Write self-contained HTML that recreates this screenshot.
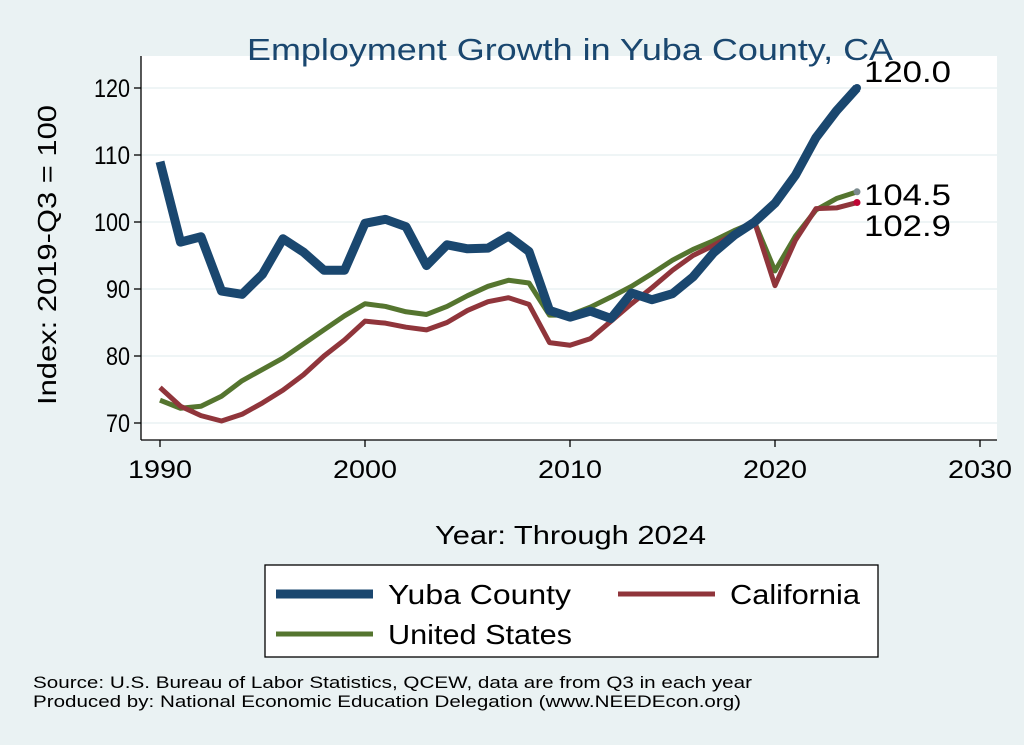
<!DOCTYPE html>
<html><head><meta charset="utf-8"><style>
html,body{margin:0;padding:0;background:#eaf2f3;}
svg{display:block;font-family:"Liberation Sans",Arial,sans-serif;}
</style></head><body>
<svg width="1024" height="745" viewBox="0 0 1024 745">
<rect x="0" y="0" width="1024" height="745" fill="#eaf2f3"/>
<rect x="141" y="56" width="856" height="384" fill="#ffffff"/>
<g stroke="#eaf2f3" stroke-width="1.5">
<line x1="141" x2="997" y1="88" y2="88"/>
<line x1="141" x2="997" y1="155" y2="155"/>
<line x1="141" x2="997" y1="222" y2="222"/>
<line x1="141" x2="997" y1="289" y2="289"/>
<line x1="141" x2="997" y1="356" y2="356"/>
<line x1="141" x2="997" y1="423" y2="423"/>
</g>
<g stroke="#000" stroke-width="1.3">
<line x1="141" x2="141" y1="56" y2="440"/>
<line x1="141" x2="997" y1="440" y2="440"/>
<line x1="134" x2="141" y1="88" y2="88"/><line x1="134" x2="141" y1="155" y2="155"/>
<line x1="134" x2="141" y1="222" y2="222"/><line x1="134" x2="141" y1="289" y2="289"/>
<line x1="134" x2="141" y1="356" y2="356"/><line x1="134" x2="141" y1="423" y2="423"/>
<line x1="160" x2="160" y1="440" y2="447"/><line x1="365" x2="365" y1="440" y2="447"/>
<line x1="570" x2="570" y1="440" y2="447"/><line x1="775" x2="775" y1="440" y2="447"/>
<line x1="980" x2="980" y1="440" y2="447"/>
</g>
<g font-size="25" fill="#000" lengthAdjust="spacingAndGlyphs">
<text x="94" y="97" textLength="36" lengthAdjust="spacingAndGlyphs">120</text><text x="94" y="164" textLength="36" lengthAdjust="spacingAndGlyphs">110</text><text x="94" y="231" textLength="36" lengthAdjust="spacingAndGlyphs">100</text>
<text x="106" y="298" textLength="24" lengthAdjust="spacingAndGlyphs">90</text><text x="106" y="365" textLength="24" lengthAdjust="spacingAndGlyphs">80</text><text x="106" y="432" textLength="24" lengthAdjust="spacingAndGlyphs">70</text>
</g>
<g font-size="25" fill="#000">
<text x="128" y="478" textLength="64" lengthAdjust="spacingAndGlyphs">1990</text><text x="333" y="478" textLength="64" lengthAdjust="spacingAndGlyphs">2000</text><text x="538" y="478" textLength="64" lengthAdjust="spacingAndGlyphs">2010</text>
<text x="743" y="478" textLength="64" lengthAdjust="spacingAndGlyphs">2020</text><text x="948" y="478" textLength="64" lengthAdjust="spacingAndGlyphs">2030</text>
</g>
<text x="435" y="544" font-size="26" textLength="271" lengthAdjust="spacingAndGlyphs">Year: Through 2024</text>
<text transform="translate(56,405) rotate(-90)" font-size="26" textLength="300" lengthAdjust="spacingAndGlyphs">Index: 2019-Q3 = 100</text>
<text x="247" y="60" font-size="31" fill="#1a476f" textLength="646" lengthAdjust="spacingAndGlyphs">Employment Growth in Yuba County, CA</text>
<g transform="translate(160,88) scale(20.5,-6.7) translate(-1990,-120)" fill="none" stroke-linejoin="round">
<polyline vector-effect="non-scaling-stroke" stroke="#55752f" stroke-width="5" points="1990,73.4 1991,72.2 1992,72.5 1993,74 1994,76.3 1995,78 1996,79.7 1997,81.8 1998,83.9 1999,86 2000,87.8 2001,87.4 2002,86.6 2003,86.2 2004,87.4 2005,89 2006,90.4 2007,91.3 2008,90.9 2009,86.1 2010,86.1 2011,87.3 2012,88.8 2013,90.4 2014,92.3 2015,94.3 2016,95.9 2017,97.2 2018,98.7 2019,100 2020,92.7 2021,97.9 2022,101.8 2023,103.5 2024,104.5"/>
<polyline vector-effect="non-scaling-stroke" stroke="#90353b" stroke-width="5" points="1990,75.3 1991,72.5 1992,71.1 1993,70.3 1994,71.3 1995,73 1996,74.9 1997,77.2 1998,80 1999,82.4 2000,85.2 2001,84.9 2002,84.3 2003,83.9 2004,85 2005,86.8 2006,88.1 2007,88.7 2008,87.7 2009,82 2010,81.6 2011,82.6 2012,85.2 2013,87.8 2014,90.2 2015,92.8 2016,95 2017,96.5 2018,98.2 2019,100 2020,90.5 2021,97.3 2022,102 2023,102.1 2024,102.9"/>
<polyline vector-effect="non-scaling-stroke" stroke="#1a476f" stroke-width="9" points="1990,109 1991,97 1992,97.8 1993,89.7 1994,89.2 1995,92.2 1996,97.5 1997,95.5 1998,92.8 1999,92.8 2000,99.8 2001,100.4 2002,99.3 2003,93.5 2004,96.6 2005,96 2006,96.1 2007,97.9 2008,95.6 2009,86.8 2010,85.8 2011,86.7 2012,85.6 2013,89.4 2014,88.4 2015,89.3 2016,91.8 2017,95.4 2018,98 2019,100 2020,102.8 2021,107 2022,112.6 2023,116.6 2024,120"/>
</g>
<circle cx="857" cy="88" r="4" fill="#1a476f"/>
<circle cx="857" cy="191.8" r="3.5" fill="#7b8a8e"/>
<circle cx="857" cy="202.5" r="3.5" fill="#c10534"/>
<g font-size="30" fill="#000">
<text x="864" y="82" textLength="87" lengthAdjust="spacingAndGlyphs">120.0</text>
<text x="864" y="205" textLength="87" lengthAdjust="spacingAndGlyphs">104.5</text>
<text x="864" y="236" textLength="87" lengthAdjust="spacingAndGlyphs">102.9</text>
</g>
<rect x="265" y="565" width="613" height="92" fill="#fff" stroke="#000" stroke-width="1.3"/>
<line x1="276" x2="373" y1="594" y2="594" stroke="#1a476f" stroke-width="9"/>
<text x="388" y="604" font-size="28" textLength="183" lengthAdjust="spacingAndGlyphs">Yuba  County</text>
<line x1="618" x2="715" y1="594" y2="594" stroke="#90353b" stroke-width="5"/>
<text x="730" y="604" font-size="28" textLength="130" lengthAdjust="spacingAndGlyphs">California</text>
<line x1="276" x2="373" y1="634" y2="634" stroke="#55752f" stroke-width="5"/>
<text x="388" y="644" font-size="28" textLength="184" lengthAdjust="spacingAndGlyphs">United States</text>
<text x="33" y="688" font-size="17" textLength="719" lengthAdjust="spacingAndGlyphs">Source: U.S. Bureau of Labor Statistics, QCEW, data are from Q3 in each year</text>
<text x="33" y="707" font-size="17" textLength="708" lengthAdjust="spacingAndGlyphs">Produced by: National Economic Education Delegation (www.NEEDEcon.org)</text>
</svg>
</body></html>
